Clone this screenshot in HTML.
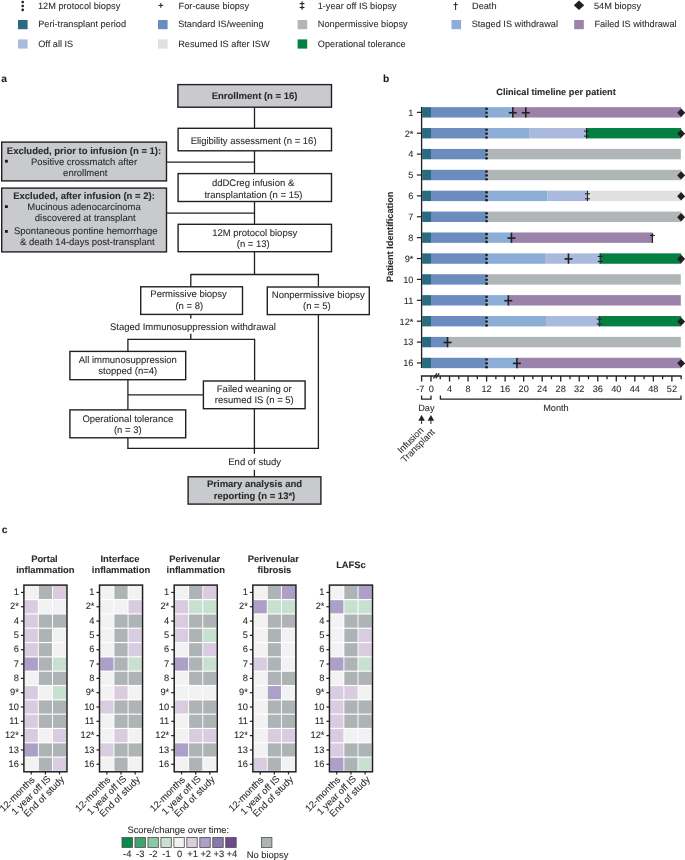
<!DOCTYPE html>
<html><head><meta charset="utf-8"><title>Figure</title>
<style>
html,body{margin:0;padding:0;background:#fff;}
body{width:685px;height:860px;overflow:hidden;}
svg{display:block;font-family:"Liberation Sans", Arial, Helvetica, sans-serif;text-rendering:geometricPrecision;}
text{stroke:#2b2b2b;stroke-width:0.08px;}
</style></head>
<body>
<svg width="685" height="860" viewBox="0 0 685 860">
<rect width="685" height="860" fill="#fff"/>
<circle cx="22.7" cy="2.1" r="1.35" fill="#231f20"/>
<circle cx="22.7" cy="6" r="1.35" fill="#231f20"/>
<circle cx="22.7" cy="9.9" r="1.35" fill="#231f20"/>
<text x="38" y="9.4" font-size="9.2" fill="#2b2b2b">12M protocol biopsy</text>
<line x1="158.4" y1="5.4" x2="163.2" y2="5.4" stroke="#231f20" stroke-width="1"/>
<line x1="160.8" y1="3" x2="160.8" y2="7.8" stroke="#231f20" stroke-width="1"/>
<text x="178.6" y="9.4" font-size="9.2" fill="#2b2b2b">For-cause biopsy</text>
<line x1="302.1" y1="1.2" x2="302.1" y2="9.9" stroke="#231f20" stroke-width="1"/>
<line x1="299.7" y1="3.6" x2="304.4" y2="3.6" stroke="#231f20" stroke-width="1.2"/>
<line x1="299.7" y1="7.5" x2="304.4" y2="7.5" stroke="#231f20" stroke-width="1.2"/>
<text x="317.7" y="9.4" font-size="9.2" fill="#2b2b2b">1-year off IS biopsy</text>
<line x1="455.6" y1="2.2" x2="455.6" y2="10" stroke="#231f20" stroke-width="1"/>
<line x1="453.3" y1="4.6" x2="457.9" y2="4.6" stroke="#231f20" stroke-width="0.9"/>
<text x="472" y="9.4" font-size="9.2" fill="#2b2b2b">Death</text>
<polygon points="579.0,0.5 584.2,5.2 579.0,9.9 573.8,5.2" fill="#231f20"/>
<text x="594" y="9.4" font-size="9.2" fill="#2b2b2b">54M biopsy</text>
<rect x="18" y="20" width="9.6" height="9.2" fill="#2b6b82"/>
<text x="38.2" y="27.4" font-size="9.2" fill="#2b2b2b">Peri-transplant period</text>
<rect x="158" y="20" width="9.6" height="9.2" fill="#6b8cbf"/>
<text x="178.2" y="27.4" font-size="9.2" fill="#2b2b2b">Standard IS/weening</text>
<rect x="297.6" y="20" width="9.6" height="9.2" fill="#b0b5b8"/>
<text x="317.8" y="27.4" font-size="9.2" fill="#2b2b2b">Nonpermissive biopsy</text>
<rect x="451.5" y="20" width="9.6" height="9.2" fill="#8aaed6"/>
<text x="471.7" y="27.4" font-size="9.2" fill="#2b2b2b">Staged IS withdrawal</text>
<rect x="574.2" y="20" width="9.6" height="9.2" fill="#9a82aa"/>
<text x="594.4" y="27.4" font-size="9.2" fill="#2b2b2b">Failed IS withdrawal</text>
<rect x="18" y="39.4" width="9.6" height="9.2" fill="#aab9de"/>
<text x="38.2" y="47.3" font-size="9.2" fill="#2b2b2b">Off all IS</text>
<rect x="158" y="39.4" width="9.6" height="9.2" fill="#e0e0e2"/>
<text x="178.2" y="47.3" font-size="9.2" fill="#2b2b2b">Resumed IS after ISW</text>
<rect x="297.6" y="39.4" width="9.6" height="9.2" fill="#037f42"/>
<text x="317.8" y="47.3" font-size="9.2" fill="#2b2b2b">Operational tolerance</text>
<text x="1.3" y="81.9" font-size="10.3" font-weight="bold" fill="#1a1a1a">a</text>
<line x1="254.5" y1="107.5" x2="254.5" y2="128" stroke="#231f20" stroke-width="1.3"/>
<line x1="254.5" y1="151" x2="254.5" y2="173.5" stroke="#231f20" stroke-width="1.3"/>
<line x1="166.5" y1="162.2" x2="254.5" y2="162.2" stroke="#231f20" stroke-width="1.3"/>
<line x1="254.5" y1="202" x2="254.5" y2="224" stroke="#231f20" stroke-width="1.3"/>
<line x1="166.5" y1="213.2" x2="254.5" y2="213.2" stroke="#231f20" stroke-width="1.3"/>
<line x1="254.5" y1="252" x2="254.5" y2="274.5" stroke="#231f20" stroke-width="1.3"/>
<line x1="190.8" y1="274.5" x2="318.4" y2="274.5" stroke="#231f20" stroke-width="1.3"/>
<line x1="190.8" y1="273.9" x2="190.8" y2="286.5" stroke="#231f20" stroke-width="1.3"/>
<line x1="318.4" y1="273.9" x2="318.4" y2="286.5" stroke="#231f20" stroke-width="1.3"/>
<line x1="190.8" y1="314.8" x2="190.8" y2="318.6" stroke="#231f20" stroke-width="1.3"/>
<line x1="190.8" y1="333.8" x2="190.8" y2="339.4" stroke="#231f20" stroke-width="1.3"/>
<line x1="127.9" y1="339.4" x2="254.6" y2="339.4" stroke="#231f20" stroke-width="1.3"/>
<line x1="127.9" y1="338.8" x2="127.9" y2="351" stroke="#231f20" stroke-width="1.3"/>
<line x1="254.6" y1="338.8" x2="254.6" y2="380.5" stroke="#231f20" stroke-width="1.3"/>
<line x1="127.9" y1="380" x2="127.9" y2="409.5" stroke="#231f20" stroke-width="1.3"/>
<line x1="127.9" y1="394.8" x2="202.9" y2="394.8" stroke="#231f20" stroke-width="1.3"/>
<line x1="127.9" y1="438" x2="127.9" y2="448.4" stroke="#231f20" stroke-width="1.3"/>
<line x1="127.3" y1="448.4" x2="319" y2="448.4" stroke="#231f20" stroke-width="1.3"/>
<line x1="318.4" y1="315" x2="318.4" y2="449" stroke="#231f20" stroke-width="1.3"/>
<line x1="254.4" y1="409" x2="254.4" y2="453.8" stroke="#231f20" stroke-width="1.3"/>
<line x1="254.4" y1="469.8" x2="254.4" y2="476.5" stroke="#231f20" stroke-width="1.3"/>
<rect x="177.9" y="84.6" width="153.6" height="22.6" fill="#c8cacd" stroke="#231f20" stroke-width="1.4"/>
<text x="254.6" y="99.3" font-size="9.5" font-weight="bold" text-anchor="middle" fill="#2b2b2b">Enrollment (n = 16)</text>
<rect x="178.1" y="128.3" width="153.4" height="22.5" fill="#fff" stroke="#231f20" stroke-width="1.4"/>
<text x="253.6" y="143.6" font-size="9.5" text-anchor="middle" fill="#2b2b2b">Eligibility assessment (n = 16)</text>
<rect x="178.1" y="173.6" width="153.4" height="27.9" fill="#fff" stroke="#231f20" stroke-width="1.4"/>
<text x="253.1" y="185.6" font-size="9.5" text-anchor="middle" fill="#2b2b2b">ddDCreg infusion &amp;</text>
<text x="253.4" y="197.5" font-size="9.5" text-anchor="middle" fill="#2b2b2b">transplantation (n = 15)</text>
<rect x="178.1" y="224.3" width="153.4" height="27.4" fill="#fff" stroke="#231f20" stroke-width="1.4"/>
<text x="254.7" y="235.9" font-size="9.5" text-anchor="middle" fill="#2b2b2b">12M protocol biopsy</text>
<text x="253.3" y="247" font-size="9.5" text-anchor="middle" fill="#2b2b2b">(n = 13)</text>
<rect x="1.7" y="142.1" width="164.8" height="38.8" fill="#c8cacd" stroke="#231f20" stroke-width="1.4"/>
<text x="84" y="154" font-size="9.5" font-weight="bold" text-anchor="middle" fill="#2b2b2b">Excluded, prior to infusion (n = 1):</text>
<rect x="5" y="159.8" width="2.8" height="2.8" fill="#1a1a1a"/>
<text x="84" y="165" font-size="9.5" text-anchor="middle" fill="#2b2b2b">Positive crossmatch after</text>
<text x="85.3" y="176.1" font-size="9.5" text-anchor="middle" fill="#2b2b2b">enrollment</text>
<rect x="1.7" y="188.1" width="164.8" height="63.8" fill="#c8cacd" stroke="#231f20" stroke-width="1.4"/>
<text x="84" y="199.1" font-size="9.5" font-weight="bold" text-anchor="middle" fill="#2b2b2b">Excluded, after infusion (n = 2):</text>
<rect x="5" y="205.2" width="2.8" height="2.8" fill="#1a1a1a"/>
<text x="84" y="210.3" font-size="9.5" text-anchor="middle" fill="#2b2b2b">Mucinous adenocarcinoma</text>
<text x="85.2" y="221.1" font-size="9.5" text-anchor="middle" fill="#2b2b2b">discovered at transplant</text>
<rect x="5" y="230" width="2.8" height="2.8" fill="#1a1a1a"/>
<text x="85.8" y="234.2" font-size="9.5" text-anchor="middle" fill="#2b2b2b">Spontaneous pontine hemorrhage</text>
<text x="87.3" y="245.1" font-size="9.5" text-anchor="middle" fill="#2b2b2b">&amp; death 14-days post-transplant</text>
<rect x="140.7" y="286.8" width="101.8" height="27.6" fill="#fff" stroke="#231f20" stroke-width="1.4"/>
<text x="188.6" y="297.3" font-size="9.5" text-anchor="middle" fill="#2b2b2b">Permissive biopsy</text>
<text x="189.3" y="309.2" font-size="9.5" text-anchor="middle" fill="#2b2b2b">(n = 8)</text>
<rect x="267.3" y="287" width="102" height="27.6" fill="#fff" stroke="#231f20" stroke-width="1.4"/>
<text x="318.3" y="297.5" font-size="9.5" text-anchor="middle" fill="#2b2b2b">Nonpermissive biopsy</text>
<text x="316.9" y="309.4" font-size="9.5" text-anchor="middle" fill="#2b2b2b">(n = 5)</text>
<text x="192.9" y="329.8" font-size="9.5" text-anchor="middle" fill="#2b2b2b">Staged Immunosuppression withdrawal</text>
<rect x="69.9" y="351.4" width="115.8" height="28.3" fill="#fff" stroke="#231f20" stroke-width="1.4"/>
<text x="127.8" y="362.9" font-size="9.5" text-anchor="middle" fill="#2b2b2b">All immunosuppression</text>
<text x="127.8" y="374.2" font-size="9.5" text-anchor="middle" fill="#2b2b2b">stopped (n=4)</text>
<rect x="203.4" y="381" width="101.7" height="27.7" fill="#fff" stroke="#231f20" stroke-width="1.4"/>
<text x="254.3" y="391.6" font-size="9.5" text-anchor="middle" fill="#2b2b2b">Failed weaning or</text>
<text x="254.3" y="402.9" font-size="9.5" text-anchor="middle" fill="#2b2b2b">resumed IS (n = 5)</text>
<rect x="69.9" y="409.9" width="115.8" height="27.9" fill="#fff" stroke="#231f20" stroke-width="1.4"/>
<text x="127.8" y="421.5" font-size="9.5" text-anchor="middle" fill="#2b2b2b">Operational tolerance</text>
<text x="127.8" y="432.7" font-size="9.5" text-anchor="middle" fill="#2b2b2b">(n = 3)</text>
<text x="254.7" y="465" font-size="9.5" text-anchor="middle" fill="#2b2b2b">End of study</text>
<rect x="188.1" y="476.8" width="132.8" height="27.3" fill="#c8cacd" stroke="#231f20" stroke-width="1.4"/>
<text x="254.5" y="487.4" font-size="9.5" font-weight="bold" text-anchor="middle" fill="#2b2b2b">Primary analysis and</text>
<text x="254.5" y="498.6" font-size="9.5" font-weight="bold" text-anchor="middle" fill="#2b2b2b">reporting (n = 13*)</text>
<text x="383" y="82.3" font-size="10.3" font-weight="bold" fill="#1a1a1a">b</text>
<text x="556" y="94.5" font-size="9.2" font-weight="bold" text-anchor="middle" fill="#2b2b2b">Clinical timeline per patient</text>
<text x="0" y="0" font-size="9.2" font-weight="bold" text-anchor="middle" fill="#2b2b2b" transform="translate(393.0,236.8) rotate(-90)">Patient Identification</text>
<rect x="422.2" y="107.15" width="8.8" height="10.4" fill="#2b6b82"/>
<rect x="431" y="107.15" width="55.59" height="10.4" fill="#6b8cbf"/>
<rect x="486.59" y="107.15" width="25.25" height="10.4" fill="#8aaed6"/>
<rect x="511.84" y="107.15" width="169.32" height="10.4" fill="#9a82aa"/>
<circle cx="486.59" cy="108.9" r="1.35" fill="#231f20"/>
<circle cx="486.59" cy="112.75" r="1.35" fill="#231f20"/>
<circle cx="486.59" cy="116.6" r="1.35" fill="#231f20"/>
<line x1="512.81" y1="107.35" x2="512.81" y2="117.55" stroke="#231f20" stroke-width="1.6"/>
<line x1="508.81" y1="112.75" x2="516.81" y2="112.75" stroke="#231f20" stroke-width="1.6"/>
<line x1="525.78" y1="107.35" x2="525.78" y2="117.55" stroke="#231f20" stroke-width="1.6"/>
<line x1="521.78" y1="112.75" x2="529.78" y2="112.75" stroke="#231f20" stroke-width="1.6"/>
<polygon points="681.15,108.55 685.15,112.75 681.15,116.95 677.15,112.75" fill="#231f20"/>
<line x1="416.9" y1="112.35" x2="421.6" y2="112.35" stroke="#231f20" stroke-width="1.2"/>
<text x="413.4" y="115.65" font-size="9.2" text-anchor="end" fill="#2b2b2b">1</text>
<rect x="422.2" y="128.03" width="8.8" height="10.4" fill="#2b6b82"/>
<rect x="431" y="128.03" width="55.59" height="10.4" fill="#6b8cbf"/>
<rect x="486.59" y="128.03" width="42.53" height="10.4" fill="#8aaed6"/>
<rect x="529.12" y="128.03" width="57.4" height="10.4" fill="#aab9de"/>
<rect x="586.51" y="128.03" width="94.64" height="10.4" fill="#037f42"/>
<circle cx="486.59" cy="129.78" r="1.35" fill="#231f20"/>
<circle cx="486.59" cy="133.63" r="1.35" fill="#231f20"/>
<circle cx="486.59" cy="137.48" r="1.35" fill="#231f20"/>
<line x1="586.51" y1="128.03" x2="586.51" y2="138.44" stroke="#231f20" stroke-width="1.1"/>
<line x1="584.01" y1="131.13" x2="589.01" y2="131.13" stroke="#231f20" stroke-width="1"/>
<line x1="584.01" y1="136.13" x2="589.01" y2="136.13" stroke="#231f20" stroke-width="1"/>
<polygon points="681.15,129.44 685.15,133.63 681.15,137.83 677.15,133.63" fill="#231f20"/>
<line x1="416.9" y1="133.23" x2="421.6" y2="133.23" stroke="#231f20" stroke-width="1.2"/>
<text x="413.4" y="136.53" font-size="9.2" text-anchor="end" fill="#2b2b2b">2*</text>
<rect x="422.2" y="148.92" width="8.8" height="10.4" fill="#2b6b82"/>
<rect x="431" y="148.92" width="55.59" height="10.4" fill="#6b8cbf"/>
<rect x="486.59" y="148.92" width="194.24" height="10.4" fill="#b0b5b8"/>
<circle cx="486.59" cy="150.67" r="1.35" fill="#231f20"/>
<circle cx="486.59" cy="154.52" r="1.35" fill="#231f20"/>
<circle cx="486.59" cy="158.37" r="1.35" fill="#231f20"/>
<line x1="416.9" y1="154.12" x2="421.6" y2="154.12" stroke="#231f20" stroke-width="1.2"/>
<text x="413.4" y="157.42" font-size="9.2" text-anchor="end" fill="#2b2b2b">4</text>
<rect x="422.2" y="169.81" width="8.8" height="10.4" fill="#2b6b82"/>
<rect x="431" y="169.81" width="55.59" height="10.4" fill="#6b8cbf"/>
<rect x="486.59" y="169.81" width="194.56" height="10.4" fill="#b0b5b8"/>
<circle cx="486.59" cy="171.56" r="1.35" fill="#231f20"/>
<circle cx="486.59" cy="175.41" r="1.35" fill="#231f20"/>
<circle cx="486.59" cy="179.25" r="1.35" fill="#231f20"/>
<polygon points="681.15,171.21 685.15,175.41 681.15,179.6 677.15,175.41" fill="#231f20"/>
<line x1="416.9" y1="175" x2="421.6" y2="175" stroke="#231f20" stroke-width="1.2"/>
<text x="413.4" y="178.31" font-size="9.2" text-anchor="end" fill="#2b2b2b">5</text>
<rect x="422.2" y="190.69" width="8.8" height="10.4" fill="#2b6b82"/>
<rect x="431" y="190.69" width="55.59" height="10.4" fill="#6b8cbf"/>
<rect x="486.59" y="190.69" width="61.01" height="10.4" fill="#8aaed6"/>
<rect x="547.6" y="190.69" width="39.89" height="10.4" fill="#aab9de"/>
<rect x="587.49" y="190.69" width="93.67" height="10.4" fill="#e0e0e2"/>
<circle cx="486.59" cy="192.44" r="1.35" fill="#231f20"/>
<circle cx="486.59" cy="196.29" r="1.35" fill="#231f20"/>
<circle cx="486.59" cy="200.14" r="1.35" fill="#231f20"/>
<line x1="587.49" y1="190.69" x2="587.49" y2="201.09" stroke="#231f20" stroke-width="1.1"/>
<line x1="584.99" y1="193.79" x2="589.99" y2="193.79" stroke="#231f20" stroke-width="1"/>
<line x1="584.99" y1="198.79" x2="589.99" y2="198.79" stroke="#231f20" stroke-width="1"/>
<polygon points="681.15,192.09 685.15,196.29 681.15,200.49 677.15,196.29" fill="#231f20"/>
<line x1="416.9" y1="195.89" x2="421.6" y2="195.89" stroke="#231f20" stroke-width="1.2"/>
<text x="413.4" y="199.19" font-size="9.2" text-anchor="end" fill="#2b2b2b">6</text>
<rect x="422.2" y="211.58" width="8.8" height="10.4" fill="#2b6b82"/>
<rect x="431" y="211.58" width="55.59" height="10.4" fill="#6b8cbf"/>
<rect x="486.59" y="211.58" width="194.56" height="10.4" fill="#b0b5b8"/>
<circle cx="486.59" cy="213.33" r="1.35" fill="#231f20"/>
<circle cx="486.59" cy="217.18" r="1.35" fill="#231f20"/>
<circle cx="486.59" cy="221.03" r="1.35" fill="#231f20"/>
<polygon points="681.15,212.98 685.15,217.18 681.15,221.38 677.15,217.18" fill="#231f20"/>
<line x1="416.9" y1="216.78" x2="421.6" y2="216.78" stroke="#231f20" stroke-width="1.2"/>
<text x="413.4" y="220.08" font-size="9.2" text-anchor="end" fill="#2b2b2b">7</text>
<rect x="422.2" y="232.46" width="8.8" height="10.4" fill="#2b6b82"/>
<rect x="431" y="232.46" width="55.59" height="10.4" fill="#6b8cbf"/>
<rect x="486.59" y="232.46" width="24.83" height="10.4" fill="#8aaed6"/>
<rect x="511.42" y="232.46" width="140.97" height="10.4" fill="#9a82aa"/>
<circle cx="486.59" cy="234.21" r="1.35" fill="#231f20"/>
<circle cx="486.59" cy="238.06" r="1.35" fill="#231f20"/>
<circle cx="486.59" cy="241.91" r="1.35" fill="#231f20"/>
<line x1="511.42" y1="232.66" x2="511.42" y2="242.86" stroke="#231f20" stroke-width="1.6"/>
<line x1="507.42" y1="238.06" x2="515.42" y2="238.06" stroke="#231f20" stroke-width="1.6"/>
<line x1="652.39" y1="233.26" x2="652.39" y2="242.86" stroke="#231f20" stroke-width="1.3"/>
<line x1="649.99" y1="235.46" x2="654.79" y2="235.46" stroke="#231f20" stroke-width="1.2"/>
<line x1="416.9" y1="237.66" x2="421.6" y2="237.66" stroke="#231f20" stroke-width="1.2"/>
<text x="413.4" y="240.96" font-size="9.2" text-anchor="end" fill="#2b2b2b">8</text>
<rect x="422.2" y="253.35" width="8.8" height="10.4" fill="#2b6b82"/>
<rect x="431" y="253.35" width="55.59" height="10.4" fill="#6b8cbf"/>
<rect x="486.59" y="253.35" width="58.42" height="10.4" fill="#8aaed6"/>
<rect x="545.01" y="253.35" width="55.17" height="10.4" fill="#aab9de"/>
<rect x="600.18" y="253.35" width="80.98" height="10.4" fill="#037f42"/>
<circle cx="486.59" cy="255.09" r="1.35" fill="#231f20"/>
<circle cx="486.59" cy="258.94" r="1.35" fill="#231f20"/>
<circle cx="486.59" cy="262.8" r="1.35" fill="#231f20"/>
<line x1="568.49" y1="253.55" x2="568.49" y2="263.75" stroke="#231f20" stroke-width="1.6"/>
<line x1="564.49" y1="258.94" x2="572.49" y2="258.94" stroke="#231f20" stroke-width="1.6"/>
<line x1="600.18" y1="253.35" x2="600.18" y2="263.75" stroke="#231f20" stroke-width="1.1"/>
<line x1="597.68" y1="256.44" x2="602.68" y2="256.44" stroke="#231f20" stroke-width="1"/>
<line x1="597.68" y1="261.44" x2="602.68" y2="261.44" stroke="#231f20" stroke-width="1"/>
<polygon points="681.15,254.75 685.15,258.94 681.15,263.14 677.15,258.94" fill="#231f20"/>
<line x1="416.9" y1="258.55" x2="421.6" y2="258.55" stroke="#231f20" stroke-width="1.2"/>
<text x="413.4" y="261.85" font-size="9.2" text-anchor="end" fill="#2b2b2b">9*</text>
<rect x="422.2" y="274.23" width="8.8" height="10.4" fill="#2b6b82"/>
<rect x="431" y="274.23" width="55.59" height="10.4" fill="#6b8cbf"/>
<rect x="486.59" y="274.23" width="194.24" height="10.4" fill="#b0b5b8"/>
<circle cx="486.59" cy="275.98" r="1.35" fill="#231f20"/>
<circle cx="486.59" cy="279.83" r="1.35" fill="#231f20"/>
<circle cx="486.59" cy="283.68" r="1.35" fill="#231f20"/>
<line x1="416.9" y1="279.43" x2="421.6" y2="279.43" stroke="#231f20" stroke-width="1.2"/>
<text x="413.4" y="282.73" font-size="9.2" text-anchor="end" fill="#2b2b2b">10</text>
<rect x="422.2" y="295.12" width="8.8" height="10.4" fill="#2b6b82"/>
<rect x="431" y="295.12" width="55.59" height="10.4" fill="#6b8cbf"/>
<rect x="486.59" y="295.12" width="21.73" height="10.4" fill="#8aaed6"/>
<rect x="508.32" y="295.12" width="172.51" height="10.4" fill="#9a82aa"/>
<circle cx="486.59" cy="296.86" r="1.35" fill="#231f20"/>
<circle cx="486.59" cy="300.71" r="1.35" fill="#231f20"/>
<circle cx="486.59" cy="304.56" r="1.35" fill="#231f20"/>
<line x1="508.32" y1="295.31" x2="508.32" y2="305.51" stroke="#231f20" stroke-width="1.6"/>
<line x1="504.32" y1="300.71" x2="512.32" y2="300.71" stroke="#231f20" stroke-width="1.6"/>
<line x1="416.9" y1="300.31" x2="421.6" y2="300.31" stroke="#231f20" stroke-width="1.2"/>
<text x="413.4" y="303.62" font-size="9.2" text-anchor="end" fill="#2b2b2b">11</text>
<rect x="422.2" y="316" width="8.8" height="10.4" fill="#2b6b82"/>
<rect x="431" y="316" width="55.59" height="10.4" fill="#6b8cbf"/>
<rect x="486.59" y="316" width="60.13" height="10.4" fill="#8aaed6"/>
<rect x="546.72" y="316" width="52.49" height="10.4" fill="#aab9de"/>
<rect x="599.21" y="316" width="81.95" height="10.4" fill="#037f42"/>
<circle cx="486.59" cy="317.75" r="1.35" fill="#231f20"/>
<circle cx="486.59" cy="321.6" r="1.35" fill="#231f20"/>
<circle cx="486.59" cy="325.45" r="1.35" fill="#231f20"/>
<line x1="599.21" y1="316" x2="599.21" y2="326.4" stroke="#231f20" stroke-width="1.1"/>
<line x1="596.71" y1="319.1" x2="601.71" y2="319.1" stroke="#231f20" stroke-width="1"/>
<line x1="596.71" y1="324.1" x2="601.71" y2="324.1" stroke="#231f20" stroke-width="1"/>
<polygon points="681.15,317.4 685.15,321.6 681.15,325.8 677.15,321.6" fill="#231f20"/>
<line x1="416.9" y1="321.2" x2="421.6" y2="321.2" stroke="#231f20" stroke-width="1.2"/>
<text x="413.4" y="324.5" font-size="9.2" text-anchor="end" fill="#2b2b2b">12*</text>
<rect x="422.2" y="336.89" width="8.8" height="10.4" fill="#2b6b82"/>
<rect x="431" y="336.89" width="16.58" height="10.4" fill="#6b8cbf"/>
<rect x="447.58" y="336.89" width="233.25" height="10.4" fill="#b0b5b8"/>
<line x1="447.58" y1="337.09" x2="447.58" y2="347.29" stroke="#231f20" stroke-width="1.6"/>
<line x1="443.58" y1="342.49" x2="451.58" y2="342.49" stroke="#231f20" stroke-width="1.6"/>
<line x1="416.9" y1="342.09" x2="421.6" y2="342.09" stroke="#231f20" stroke-width="1.2"/>
<text x="413.4" y="345.39" font-size="9.2" text-anchor="end" fill="#2b2b2b">13</text>
<rect x="422.2" y="357.77" width="8.8" height="10.4" fill="#2b6b82"/>
<rect x="431" y="357.77" width="55.59" height="10.4" fill="#6b8cbf"/>
<rect x="486.59" y="357.77" width="30.3" height="10.4" fill="#8aaed6"/>
<rect x="516.89" y="357.77" width="164.27" height="10.4" fill="#9a82aa"/>
<circle cx="486.59" cy="359.52" r="1.35" fill="#231f20"/>
<circle cx="486.59" cy="363.37" r="1.35" fill="#231f20"/>
<circle cx="486.59" cy="367.22" r="1.35" fill="#231f20"/>
<line x1="516.89" y1="357.97" x2="516.89" y2="368.17" stroke="#231f20" stroke-width="1.6"/>
<line x1="512.89" y1="363.37" x2="520.89" y2="363.37" stroke="#231f20" stroke-width="1.6"/>
<polygon points="681.15,359.17 685.15,363.37 681.15,367.57 677.15,363.37" fill="#231f20"/>
<line x1="416.9" y1="362.97" x2="421.6" y2="362.97" stroke="#231f20" stroke-width="1.2"/>
<text x="413.4" y="366.27" font-size="9.2" text-anchor="end" fill="#2b2b2b">16</text>
<line x1="421.6" y1="106.9" x2="421.6" y2="368" stroke="#231f20" stroke-width="1.3"/>
<line x1="420.95" y1="376" x2="681.6" y2="376" stroke="#231f20" stroke-width="1.3"/>
<line x1="421.6" y1="376" x2="421.6" y2="381.5" stroke="#231f20" stroke-width="1.3"/>
<line x1="431" y1="376" x2="431" y2="381.5" stroke="#231f20" stroke-width="1.3"/>
<line x1="440.26" y1="376" x2="440.26" y2="379.3" stroke="#231f20" stroke-width="1.3"/>
<line x1="449.53" y1="376" x2="449.53" y2="381.5" stroke="#231f20" stroke-width="1.3"/>
<line x1="458.8" y1="376" x2="458.8" y2="379.3" stroke="#231f20" stroke-width="1.3"/>
<line x1="468.06" y1="376" x2="468.06" y2="381.5" stroke="#231f20" stroke-width="1.3"/>
<line x1="477.32" y1="376" x2="477.32" y2="379.3" stroke="#231f20" stroke-width="1.3"/>
<line x1="486.59" y1="376" x2="486.59" y2="381.5" stroke="#231f20" stroke-width="1.3"/>
<line x1="495.86" y1="376" x2="495.86" y2="379.3" stroke="#231f20" stroke-width="1.3"/>
<line x1="505.12" y1="376" x2="505.12" y2="381.5" stroke="#231f20" stroke-width="1.3"/>
<line x1="514.38" y1="376" x2="514.38" y2="379.3" stroke="#231f20" stroke-width="1.3"/>
<line x1="523.65" y1="376" x2="523.65" y2="381.5" stroke="#231f20" stroke-width="1.3"/>
<line x1="532.91" y1="376" x2="532.91" y2="379.3" stroke="#231f20" stroke-width="1.3"/>
<line x1="542.18" y1="376" x2="542.18" y2="381.5" stroke="#231f20" stroke-width="1.3"/>
<line x1="551.45" y1="376" x2="551.45" y2="379.3" stroke="#231f20" stroke-width="1.3"/>
<line x1="560.71" y1="376" x2="560.71" y2="381.5" stroke="#231f20" stroke-width="1.3"/>
<line x1="569.98" y1="376" x2="569.98" y2="379.3" stroke="#231f20" stroke-width="1.3"/>
<line x1="579.24" y1="376" x2="579.24" y2="381.5" stroke="#231f20" stroke-width="1.3"/>
<line x1="588.5" y1="376" x2="588.5" y2="379.3" stroke="#231f20" stroke-width="1.3"/>
<line x1="597.77" y1="376" x2="597.77" y2="381.5" stroke="#231f20" stroke-width="1.3"/>
<line x1="607.04" y1="376" x2="607.04" y2="379.3" stroke="#231f20" stroke-width="1.3"/>
<line x1="616.3" y1="376" x2="616.3" y2="381.5" stroke="#231f20" stroke-width="1.3"/>
<line x1="625.57" y1="376" x2="625.57" y2="379.3" stroke="#231f20" stroke-width="1.3"/>
<line x1="634.83" y1="376" x2="634.83" y2="381.5" stroke="#231f20" stroke-width="1.3"/>
<line x1="644.1" y1="376" x2="644.1" y2="379.3" stroke="#231f20" stroke-width="1.3"/>
<line x1="653.36" y1="376" x2="653.36" y2="381.5" stroke="#231f20" stroke-width="1.3"/>
<line x1="662.62" y1="376" x2="662.62" y2="379.3" stroke="#231f20" stroke-width="1.3"/>
<line x1="671.89" y1="376" x2="671.89" y2="381.5" stroke="#231f20" stroke-width="1.3"/>
<line x1="681.15" y1="376" x2="681.15" y2="379.3" stroke="#231f20" stroke-width="1.3"/>
<line x1="433.4" y1="378.3" x2="436.9" y2="373.4" stroke="#231f20" stroke-width="1.2"/>
<line x1="435.7" y1="378.3" x2="439.2" y2="373.4" stroke="#231f20" stroke-width="1.2"/>
<text x="420.4" y="391.8" font-size="9.2" text-anchor="middle" fill="#2b2b2b">-7</text>
<text x="431.2" y="391.8" font-size="9.2" text-anchor="middle" fill="#2b2b2b">0</text>
<text x="449.53" y="391.8" font-size="9.2" text-anchor="middle" fill="#2b2b2b">4</text>
<text x="468.06" y="391.8" font-size="9.2" text-anchor="middle" fill="#2b2b2b">8</text>
<text x="486.59" y="391.8" font-size="9.2" text-anchor="middle" fill="#2b2b2b">12</text>
<text x="505.12" y="391.8" font-size="9.2" text-anchor="middle" fill="#2b2b2b">16</text>
<text x="523.65" y="391.8" font-size="9.2" text-anchor="middle" fill="#2b2b2b">20</text>
<text x="542.18" y="391.8" font-size="9.2" text-anchor="middle" fill="#2b2b2b">24</text>
<text x="560.71" y="391.8" font-size="9.2" text-anchor="middle" fill="#2b2b2b">28</text>
<text x="579.24" y="391.8" font-size="9.2" text-anchor="middle" fill="#2b2b2b">32</text>
<text x="597.77" y="391.8" font-size="9.2" text-anchor="middle" fill="#2b2b2b">36</text>
<text x="616.3" y="391.8" font-size="9.2" text-anchor="middle" fill="#2b2b2b">40</text>
<text x="634.83" y="391.8" font-size="9.2" text-anchor="middle" fill="#2b2b2b">44</text>
<text x="653.36" y="391.8" font-size="9.2" text-anchor="middle" fill="#2b2b2b">48</text>
<text x="671.89" y="391.8" font-size="9.2" text-anchor="middle" fill="#2b2b2b">52</text>
<path d="M421.6,395.6 V399.2 H431.0 V395.6" fill="none" stroke="#231f20" stroke-width="1.3"/>
<path d="M440.4,395.6 V399.2 H681.0 V395.6" fill="none" stroke="#231f20" stroke-width="1.3"/>
<text x="426.4" y="410.9" font-size="9.2" text-anchor="middle" fill="#2b2b2b">Day</text>
<text x="555.9" y="411" font-size="9.2" text-anchor="middle" fill="#2b2b2b">Month</text>
<polygon points="421.6,414.9 424.9,420.8 418.3,420.8" fill="#231f20"/>
<line x1="421.6" y1="420.5" x2="421.6" y2="424" stroke="#231f20" stroke-width="1"/>
<polygon points="430.9,414.9 434.2,420.8 427.6,420.8" fill="#231f20"/>
<line x1="430.9" y1="420.5" x2="430.9" y2="424" stroke="#231f20" stroke-width="1"/>
<text x="0" y="0" font-size="9.2" text-anchor="end" fill="#2b2b2b" transform="translate(424.0,431.0) rotate(-45)">Infusion</text>
<text x="0" y="0" font-size="9.2" text-anchor="end" fill="#2b2b2b" transform="translate(435.3,432.6) rotate(-45)">Transplant</text>
<text x="1.8" y="532.8" font-size="10.3" font-weight="bold" fill="#1a1a1a">c</text>
<text x="44.42" y="562.1" font-size="9.4" font-weight="bold" text-anchor="middle" fill="#2b2b2b">Portal</text>
<text x="45.42" y="573.1" font-size="9.4" font-weight="bold" text-anchor="middle" fill="#2b2b2b">inflammation</text>
<rect x="24.65" y="585.85" width="41.55" height="185.2" fill="#ffffff"/>
<rect x="24.65" y="585.85" width="13.2" height="13.15" fill="#f2f2f2"/>
<rect x="38.8" y="585.85" width="13.2" height="13.15" fill="#aeb3b5"/>
<rect x="52.95" y="585.85" width="13.2" height="13.15" fill="#dacce0"/>
<rect x="24.65" y="600.17" width="13.2" height="13.15" fill="#dacce0"/>
<rect x="38.8" y="600.17" width="13.2" height="13.15" fill="#f2f2f2"/>
<rect x="52.95" y="600.17" width="13.2" height="13.15" fill="#f2f2f2"/>
<rect x="24.65" y="614.49" width="13.2" height="13.15" fill="#dacce0"/>
<rect x="38.8" y="614.49" width="13.2" height="13.15" fill="#aeb3b5"/>
<rect x="52.95" y="614.49" width="13.2" height="13.15" fill="#aeb3b5"/>
<rect x="24.65" y="628.81" width="13.2" height="13.15" fill="#dacce0"/>
<rect x="38.8" y="628.81" width="13.2" height="13.15" fill="#aeb3b5"/>
<rect x="52.95" y="628.81" width="13.2" height="13.15" fill="#f2f2f2"/>
<rect x="24.65" y="643.13" width="13.2" height="13.15" fill="#dacce0"/>
<rect x="38.8" y="643.13" width="13.2" height="13.15" fill="#aeb3b5"/>
<rect x="52.95" y="643.13" width="13.2" height="13.15" fill="#f2f2f2"/>
<rect x="24.65" y="657.45" width="13.2" height="13.15" fill="#ac9fc8"/>
<rect x="38.8" y="657.45" width="13.2" height="13.15" fill="#aeb3b5"/>
<rect x="52.95" y="657.45" width="13.2" height="13.15" fill="#c8e0d0"/>
<rect x="24.65" y="671.77" width="13.2" height="13.15" fill="#f2f2f2"/>
<rect x="38.8" y="671.77" width="13.2" height="13.15" fill="#aeb3b5"/>
<rect x="52.95" y="671.77" width="13.2" height="13.15" fill="#aeb3b5"/>
<rect x="24.65" y="686.09" width="13.2" height="13.15" fill="#dacce0"/>
<rect x="38.8" y="686.09" width="13.2" height="13.15" fill="#f2f2f2"/>
<rect x="52.95" y="686.09" width="13.2" height="13.15" fill="#c8e0d0"/>
<rect x="24.65" y="700.41" width="13.2" height="13.15" fill="#dacce0"/>
<rect x="38.8" y="700.41" width="13.2" height="13.15" fill="#aeb3b5"/>
<rect x="52.95" y="700.41" width="13.2" height="13.15" fill="#aeb3b5"/>
<rect x="24.65" y="714.73" width="13.2" height="13.15" fill="#dacce0"/>
<rect x="38.8" y="714.73" width="13.2" height="13.15" fill="#aeb3b5"/>
<rect x="52.95" y="714.73" width="13.2" height="13.15" fill="#aeb3b5"/>
<rect x="24.65" y="729.05" width="13.2" height="13.15" fill="#dacce0"/>
<rect x="38.8" y="729.05" width="13.2" height="13.15" fill="#f2f2f2"/>
<rect x="52.95" y="729.05" width="13.2" height="13.15" fill="#dacce0"/>
<rect x="24.65" y="743.37" width="13.2" height="13.15" fill="#ac9fc8"/>
<rect x="38.8" y="743.37" width="13.2" height="13.15" fill="#aeb3b5"/>
<rect x="52.95" y="743.37" width="13.2" height="13.15" fill="#aeb3b5"/>
<rect x="24.65" y="757.69" width="13.2" height="13.15" fill="#f2f2f2"/>
<rect x="38.8" y="757.69" width="13.2" height="13.15" fill="#aeb3b5"/>
<rect x="52.95" y="757.69" width="13.2" height="13.15" fill="#dacce0"/>
<rect x="23.9" y="585.1" width="43.05" height="186.7" fill="none" stroke="#231f20" stroke-width="1.5"/>
<line x1="20.9" y1="592.43" x2="23.9" y2="592.43" stroke="#231f20" stroke-width="1.2"/>
<text x="18.9" y="595.03" font-size="9.3" text-anchor="end" fill="#2b2b2b">1</text>
<line x1="20.9" y1="606.75" x2="23.9" y2="606.75" stroke="#231f20" stroke-width="1.2"/>
<text x="18.9" y="609.35" font-size="9.3" text-anchor="end" fill="#2b2b2b">2*</text>
<line x1="20.9" y1="621.07" x2="23.9" y2="621.07" stroke="#231f20" stroke-width="1.2"/>
<text x="18.9" y="623.67" font-size="9.3" text-anchor="end" fill="#2b2b2b">4</text>
<line x1="20.9" y1="635.39" x2="23.9" y2="635.39" stroke="#231f20" stroke-width="1.2"/>
<text x="18.9" y="637.99" font-size="9.3" text-anchor="end" fill="#2b2b2b">5</text>
<line x1="20.9" y1="649.71" x2="23.9" y2="649.71" stroke="#231f20" stroke-width="1.2"/>
<text x="18.9" y="652.31" font-size="9.3" text-anchor="end" fill="#2b2b2b">6</text>
<line x1="20.9" y1="664.03" x2="23.9" y2="664.03" stroke="#231f20" stroke-width="1.2"/>
<text x="18.9" y="666.63" font-size="9.3" text-anchor="end" fill="#2b2b2b">7</text>
<line x1="20.9" y1="678.35" x2="23.9" y2="678.35" stroke="#231f20" stroke-width="1.2"/>
<text x="18.9" y="680.95" font-size="9.3" text-anchor="end" fill="#2b2b2b">8</text>
<line x1="20.9" y1="692.67" x2="23.9" y2="692.67" stroke="#231f20" stroke-width="1.2"/>
<text x="18.9" y="695.27" font-size="9.3" text-anchor="end" fill="#2b2b2b">9*</text>
<line x1="20.9" y1="706.99" x2="23.9" y2="706.99" stroke="#231f20" stroke-width="1.2"/>
<text x="18.9" y="709.59" font-size="9.3" text-anchor="end" fill="#2b2b2b">10</text>
<line x1="20.9" y1="721.31" x2="23.9" y2="721.31" stroke="#231f20" stroke-width="1.2"/>
<text x="18.9" y="723.91" font-size="9.3" text-anchor="end" fill="#2b2b2b">11</text>
<line x1="20.9" y1="735.62" x2="23.9" y2="735.62" stroke="#231f20" stroke-width="1.2"/>
<text x="18.9" y="738.23" font-size="9.3" text-anchor="end" fill="#2b2b2b">12*</text>
<line x1="20.9" y1="749.95" x2="23.9" y2="749.95" stroke="#231f20" stroke-width="1.2"/>
<text x="18.9" y="752.55" font-size="9.3" text-anchor="end" fill="#2b2b2b">13</text>
<line x1="20.9" y1="764.27" x2="23.9" y2="764.27" stroke="#231f20" stroke-width="1.2"/>
<text x="18.9" y="766.87" font-size="9.3" text-anchor="end" fill="#2b2b2b">16</text>
<line x1="31.25" y1="771.8" x2="31.25" y2="774.4" stroke="#231f20" stroke-width="1.2"/>
<text x="0" y="0" font-size="9.5" text-anchor="end" fill="#2b2b2b" transform="translate(35.25,780.4) rotate(-45)">12-months</text>
<line x1="45.4" y1="771.8" x2="45.4" y2="774.4" stroke="#231f20" stroke-width="1.2"/>
<text x="0" y="0" font-size="9.5" text-anchor="end" fill="#2b2b2b" transform="translate(51.3,779.4) rotate(-45)">1 year off IS</text>
<line x1="59.55" y1="771.8" x2="59.55" y2="774.4" stroke="#231f20" stroke-width="1.2"/>
<text x="0" y="0" font-size="9.5" text-anchor="end" fill="#2b2b2b" transform="translate(64.95,780.1) rotate(-45)">End of study</text>
<text x="120.03" y="562.1" font-size="9.4" font-weight="bold" text-anchor="middle" fill="#2b2b2b">Interface</text>
<text x="121.03" y="573.1" font-size="9.4" font-weight="bold" text-anchor="middle" fill="#2b2b2b">inflammation</text>
<rect x="100.25" y="585.85" width="41.55" height="185.2" fill="#ffffff"/>
<rect x="100.25" y="585.85" width="13.2" height="13.15" fill="#f2f2f2"/>
<rect x="114.4" y="585.85" width="13.2" height="13.15" fill="#aeb3b5"/>
<rect x="128.55" y="585.85" width="13.2" height="13.15" fill="#f2f2f2"/>
<rect x="100.25" y="600.17" width="13.2" height="13.15" fill="#f2f2f2"/>
<rect x="114.4" y="600.17" width="13.2" height="13.15" fill="#f2f2f2"/>
<rect x="128.55" y="600.17" width="13.2" height="13.15" fill="#dacce0"/>
<rect x="100.25" y="614.49" width="13.2" height="13.15" fill="#f2f2f2"/>
<rect x="114.4" y="614.49" width="13.2" height="13.15" fill="#aeb3b5"/>
<rect x="128.55" y="614.49" width="13.2" height="13.15" fill="#aeb3b5"/>
<rect x="100.25" y="628.81" width="13.2" height="13.15" fill="#f2f2f2"/>
<rect x="114.4" y="628.81" width="13.2" height="13.15" fill="#aeb3b5"/>
<rect x="128.55" y="628.81" width="13.2" height="13.15" fill="#dacce0"/>
<rect x="100.25" y="643.13" width="13.2" height="13.15" fill="#f2f2f2"/>
<rect x="114.4" y="643.13" width="13.2" height="13.15" fill="#aeb3b5"/>
<rect x="128.55" y="643.13" width="13.2" height="13.15" fill="#dacce0"/>
<rect x="100.25" y="657.45" width="13.2" height="13.15" fill="#ac9fc8"/>
<rect x="114.4" y="657.45" width="13.2" height="13.15" fill="#aeb3b5"/>
<rect x="128.55" y="657.45" width="13.2" height="13.15" fill="#c8e0d0"/>
<rect x="100.25" y="671.77" width="13.2" height="13.15" fill="#f2f2f2"/>
<rect x="114.4" y="671.77" width="13.2" height="13.15" fill="#aeb3b5"/>
<rect x="128.55" y="671.77" width="13.2" height="13.15" fill="#aeb3b5"/>
<rect x="100.25" y="686.09" width="13.2" height="13.15" fill="#f2f2f2"/>
<rect x="114.4" y="686.09" width="13.2" height="13.15" fill="#dacce0"/>
<rect x="128.55" y="686.09" width="13.2" height="13.15" fill="#f2f2f2"/>
<rect x="100.25" y="700.41" width="13.2" height="13.15" fill="#dacce0"/>
<rect x="114.4" y="700.41" width="13.2" height="13.15" fill="#aeb3b5"/>
<rect x="128.55" y="700.41" width="13.2" height="13.15" fill="#aeb3b5"/>
<rect x="100.25" y="714.73" width="13.2" height="13.15" fill="#f2f2f2"/>
<rect x="114.4" y="714.73" width="13.2" height="13.15" fill="#aeb3b5"/>
<rect x="128.55" y="714.73" width="13.2" height="13.15" fill="#aeb3b5"/>
<rect x="100.25" y="729.05" width="13.2" height="13.15" fill="#f2f2f2"/>
<rect x="114.4" y="729.05" width="13.2" height="13.15" fill="#dacce0"/>
<rect x="128.55" y="729.05" width="13.2" height="13.15" fill="#f2f2f2"/>
<rect x="100.25" y="743.37" width="13.2" height="13.15" fill="#dacce0"/>
<rect x="114.4" y="743.37" width="13.2" height="13.15" fill="#aeb3b5"/>
<rect x="128.55" y="743.37" width="13.2" height="13.15" fill="#aeb3b5"/>
<rect x="100.25" y="757.69" width="13.2" height="13.15" fill="#f2f2f2"/>
<rect x="114.4" y="757.69" width="13.2" height="13.15" fill="#aeb3b5"/>
<rect x="128.55" y="757.69" width="13.2" height="13.15" fill="#f2f2f2"/>
<rect x="99.5" y="585.1" width="43.05" height="186.7" fill="none" stroke="#231f20" stroke-width="1.5"/>
<line x1="96.5" y1="592.43" x2="99.5" y2="592.43" stroke="#231f20" stroke-width="1.2"/>
<text x="94.5" y="595.03" font-size="9.3" text-anchor="end" fill="#2b2b2b">1</text>
<line x1="96.5" y1="606.75" x2="99.5" y2="606.75" stroke="#231f20" stroke-width="1.2"/>
<text x="94.5" y="609.35" font-size="9.3" text-anchor="end" fill="#2b2b2b">2*</text>
<line x1="96.5" y1="621.07" x2="99.5" y2="621.07" stroke="#231f20" stroke-width="1.2"/>
<text x="94.5" y="623.67" font-size="9.3" text-anchor="end" fill="#2b2b2b">4</text>
<line x1="96.5" y1="635.39" x2="99.5" y2="635.39" stroke="#231f20" stroke-width="1.2"/>
<text x="94.5" y="637.99" font-size="9.3" text-anchor="end" fill="#2b2b2b">5</text>
<line x1="96.5" y1="649.71" x2="99.5" y2="649.71" stroke="#231f20" stroke-width="1.2"/>
<text x="94.5" y="652.31" font-size="9.3" text-anchor="end" fill="#2b2b2b">6</text>
<line x1="96.5" y1="664.03" x2="99.5" y2="664.03" stroke="#231f20" stroke-width="1.2"/>
<text x="94.5" y="666.63" font-size="9.3" text-anchor="end" fill="#2b2b2b">7</text>
<line x1="96.5" y1="678.35" x2="99.5" y2="678.35" stroke="#231f20" stroke-width="1.2"/>
<text x="94.5" y="680.95" font-size="9.3" text-anchor="end" fill="#2b2b2b">8</text>
<line x1="96.5" y1="692.67" x2="99.5" y2="692.67" stroke="#231f20" stroke-width="1.2"/>
<text x="94.5" y="695.27" font-size="9.3" text-anchor="end" fill="#2b2b2b">9*</text>
<line x1="96.5" y1="706.99" x2="99.5" y2="706.99" stroke="#231f20" stroke-width="1.2"/>
<text x="94.5" y="709.59" font-size="9.3" text-anchor="end" fill="#2b2b2b">10</text>
<line x1="96.5" y1="721.31" x2="99.5" y2="721.31" stroke="#231f20" stroke-width="1.2"/>
<text x="94.5" y="723.91" font-size="9.3" text-anchor="end" fill="#2b2b2b">11</text>
<line x1="96.5" y1="735.62" x2="99.5" y2="735.62" stroke="#231f20" stroke-width="1.2"/>
<text x="94.5" y="738.23" font-size="9.3" text-anchor="end" fill="#2b2b2b">12*</text>
<line x1="96.5" y1="749.95" x2="99.5" y2="749.95" stroke="#231f20" stroke-width="1.2"/>
<text x="94.5" y="752.55" font-size="9.3" text-anchor="end" fill="#2b2b2b">13</text>
<line x1="96.5" y1="764.27" x2="99.5" y2="764.27" stroke="#231f20" stroke-width="1.2"/>
<text x="94.5" y="766.87" font-size="9.3" text-anchor="end" fill="#2b2b2b">16</text>
<line x1="106.85" y1="771.8" x2="106.85" y2="774.4" stroke="#231f20" stroke-width="1.2"/>
<text x="0" y="0" font-size="9.5" text-anchor="end" fill="#2b2b2b" transform="translate(110.85,780.4) rotate(-45)">12-months</text>
<line x1="121" y1="771.8" x2="121" y2="774.4" stroke="#231f20" stroke-width="1.2"/>
<text x="0" y="0" font-size="9.5" text-anchor="end" fill="#2b2b2b" transform="translate(126.9,779.4) rotate(-45)">1 year off IS</text>
<line x1="135.15" y1="771.8" x2="135.15" y2="774.4" stroke="#231f20" stroke-width="1.2"/>
<text x="0" y="0" font-size="9.5" text-anchor="end" fill="#2b2b2b" transform="translate(140.55,780.1) rotate(-45)">End of study</text>
<text x="194.72" y="562.1" font-size="9.4" font-weight="bold" text-anchor="middle" fill="#2b2b2b">Perivenular</text>
<text x="195.72" y="573.1" font-size="9.4" font-weight="bold" text-anchor="middle" fill="#2b2b2b">inflammation</text>
<rect x="174.95" y="585.85" width="41.55" height="185.2" fill="#ffffff"/>
<rect x="174.95" y="585.85" width="13.2" height="13.15" fill="#f2f2f2"/>
<rect x="189.1" y="585.85" width="13.2" height="13.15" fill="#aeb3b5"/>
<rect x="203.25" y="585.85" width="13.2" height="13.15" fill="#dacce0"/>
<rect x="174.95" y="600.17" width="13.2" height="13.15" fill="#dacce0"/>
<rect x="189.1" y="600.17" width="13.2" height="13.15" fill="#c8e0d0"/>
<rect x="203.25" y="600.17" width="13.2" height="13.15" fill="#c8e0d0"/>
<rect x="174.95" y="614.49" width="13.2" height="13.15" fill="#dacce0"/>
<rect x="189.1" y="614.49" width="13.2" height="13.15" fill="#aeb3b5"/>
<rect x="203.25" y="614.49" width="13.2" height="13.15" fill="#aeb3b5"/>
<rect x="174.95" y="628.81" width="13.2" height="13.15" fill="#dacce0"/>
<rect x="189.1" y="628.81" width="13.2" height="13.15" fill="#aeb3b5"/>
<rect x="203.25" y="628.81" width="13.2" height="13.15" fill="#c8e0d0"/>
<rect x="174.95" y="643.13" width="13.2" height="13.15" fill="#f2f2f2"/>
<rect x="189.1" y="643.13" width="13.2" height="13.15" fill="#aeb3b5"/>
<rect x="203.25" y="643.13" width="13.2" height="13.15" fill="#dacce0"/>
<rect x="174.95" y="657.45" width="13.2" height="13.15" fill="#ac9fc8"/>
<rect x="189.1" y="657.45" width="13.2" height="13.15" fill="#aeb3b5"/>
<rect x="203.25" y="657.45" width="13.2" height="13.15" fill="#c8e0d0"/>
<rect x="174.95" y="671.77" width="13.2" height="13.15" fill="#f2f2f2"/>
<rect x="189.1" y="671.77" width="13.2" height="13.15" fill="#aeb3b5"/>
<rect x="203.25" y="671.77" width="13.2" height="13.15" fill="#aeb3b5"/>
<rect x="174.95" y="686.09" width="13.2" height="13.15" fill="#f2f2f2"/>
<rect x="189.1" y="686.09" width="13.2" height="13.15" fill="#f2f2f2"/>
<rect x="203.25" y="686.09" width="13.2" height="13.15" fill="#f2f2f2"/>
<rect x="174.95" y="700.41" width="13.2" height="13.15" fill="#dacce0"/>
<rect x="189.1" y="700.41" width="13.2" height="13.15" fill="#aeb3b5"/>
<rect x="203.25" y="700.41" width="13.2" height="13.15" fill="#aeb3b5"/>
<rect x="174.95" y="714.73" width="13.2" height="13.15" fill="#f2f2f2"/>
<rect x="189.1" y="714.73" width="13.2" height="13.15" fill="#aeb3b5"/>
<rect x="203.25" y="714.73" width="13.2" height="13.15" fill="#aeb3b5"/>
<rect x="174.95" y="729.05" width="13.2" height="13.15" fill="#f2f2f2"/>
<rect x="189.1" y="729.05" width="13.2" height="13.15" fill="#dacce0"/>
<rect x="203.25" y="729.05" width="13.2" height="13.15" fill="#dacce0"/>
<rect x="174.95" y="743.37" width="13.2" height="13.15" fill="#ac9fc8"/>
<rect x="189.1" y="743.37" width="13.2" height="13.15" fill="#aeb3b5"/>
<rect x="203.25" y="743.37" width="13.2" height="13.15" fill="#aeb3b5"/>
<rect x="174.95" y="757.69" width="13.2" height="13.15" fill="#f2f2f2"/>
<rect x="189.1" y="757.69" width="13.2" height="13.15" fill="#aeb3b5"/>
<rect x="203.25" y="757.69" width="13.2" height="13.15" fill="#f2f2f2"/>
<rect x="174.2" y="585.1" width="43.05" height="186.7" fill="none" stroke="#231f20" stroke-width="1.5"/>
<line x1="171.2" y1="592.43" x2="174.2" y2="592.43" stroke="#231f20" stroke-width="1.2"/>
<text x="169.2" y="595.03" font-size="9.3" text-anchor="end" fill="#2b2b2b">1</text>
<line x1="171.2" y1="606.75" x2="174.2" y2="606.75" stroke="#231f20" stroke-width="1.2"/>
<text x="169.2" y="609.35" font-size="9.3" text-anchor="end" fill="#2b2b2b">2*</text>
<line x1="171.2" y1="621.07" x2="174.2" y2="621.07" stroke="#231f20" stroke-width="1.2"/>
<text x="169.2" y="623.67" font-size="9.3" text-anchor="end" fill="#2b2b2b">4</text>
<line x1="171.2" y1="635.39" x2="174.2" y2="635.39" stroke="#231f20" stroke-width="1.2"/>
<text x="169.2" y="637.99" font-size="9.3" text-anchor="end" fill="#2b2b2b">5</text>
<line x1="171.2" y1="649.71" x2="174.2" y2="649.71" stroke="#231f20" stroke-width="1.2"/>
<text x="169.2" y="652.31" font-size="9.3" text-anchor="end" fill="#2b2b2b">6</text>
<line x1="171.2" y1="664.03" x2="174.2" y2="664.03" stroke="#231f20" stroke-width="1.2"/>
<text x="169.2" y="666.63" font-size="9.3" text-anchor="end" fill="#2b2b2b">7</text>
<line x1="171.2" y1="678.35" x2="174.2" y2="678.35" stroke="#231f20" stroke-width="1.2"/>
<text x="169.2" y="680.95" font-size="9.3" text-anchor="end" fill="#2b2b2b">8</text>
<line x1="171.2" y1="692.67" x2="174.2" y2="692.67" stroke="#231f20" stroke-width="1.2"/>
<text x="169.2" y="695.27" font-size="9.3" text-anchor="end" fill="#2b2b2b">9*</text>
<line x1="171.2" y1="706.99" x2="174.2" y2="706.99" stroke="#231f20" stroke-width="1.2"/>
<text x="169.2" y="709.59" font-size="9.3" text-anchor="end" fill="#2b2b2b">10</text>
<line x1="171.2" y1="721.31" x2="174.2" y2="721.31" stroke="#231f20" stroke-width="1.2"/>
<text x="169.2" y="723.91" font-size="9.3" text-anchor="end" fill="#2b2b2b">11</text>
<line x1="171.2" y1="735.62" x2="174.2" y2="735.62" stroke="#231f20" stroke-width="1.2"/>
<text x="169.2" y="738.23" font-size="9.3" text-anchor="end" fill="#2b2b2b">12*</text>
<line x1="171.2" y1="749.95" x2="174.2" y2="749.95" stroke="#231f20" stroke-width="1.2"/>
<text x="169.2" y="752.55" font-size="9.3" text-anchor="end" fill="#2b2b2b">13</text>
<line x1="171.2" y1="764.27" x2="174.2" y2="764.27" stroke="#231f20" stroke-width="1.2"/>
<text x="169.2" y="766.87" font-size="9.3" text-anchor="end" fill="#2b2b2b">16</text>
<line x1="181.55" y1="771.8" x2="181.55" y2="774.4" stroke="#231f20" stroke-width="1.2"/>
<text x="0" y="0" font-size="9.5" text-anchor="end" fill="#2b2b2b" transform="translate(185.55,780.4) rotate(-45)">12-months</text>
<line x1="195.7" y1="771.8" x2="195.7" y2="774.4" stroke="#231f20" stroke-width="1.2"/>
<text x="0" y="0" font-size="9.5" text-anchor="end" fill="#2b2b2b" transform="translate(201.6,779.4) rotate(-45)">1 year off IS</text>
<line x1="209.85" y1="771.8" x2="209.85" y2="774.4" stroke="#231f20" stroke-width="1.2"/>
<text x="0" y="0" font-size="9.5" text-anchor="end" fill="#2b2b2b" transform="translate(215.25,780.1) rotate(-45)">End of study</text>
<text x="273.38" y="562.1" font-size="9.4" font-weight="bold" text-anchor="middle" fill="#2b2b2b">Perivenular</text>
<text x="274.38" y="573.1" font-size="9.4" font-weight="bold" text-anchor="middle" fill="#2b2b2b">fibrosis</text>
<rect x="253.6" y="585.85" width="41.55" height="185.2" fill="#ffffff"/>
<rect x="253.6" y="585.85" width="13.2" height="13.15" fill="#f2f2f2"/>
<rect x="267.75" y="585.85" width="13.2" height="13.15" fill="#aeb3b5"/>
<rect x="281.9" y="585.85" width="13.2" height="13.15" fill="#ac9fc8"/>
<rect x="253.6" y="600.17" width="13.2" height="13.15" fill="#ac9fc8"/>
<rect x="267.75" y="600.17" width="13.2" height="13.15" fill="#c8e0d0"/>
<rect x="281.9" y="600.17" width="13.2" height="13.15" fill="#c8e0d0"/>
<rect x="253.6" y="614.49" width="13.2" height="13.15" fill="#f2f2f2"/>
<rect x="267.75" y="614.49" width="13.2" height="13.15" fill="#aeb3b5"/>
<rect x="281.9" y="614.49" width="13.2" height="13.15" fill="#aeb3b5"/>
<rect x="253.6" y="628.81" width="13.2" height="13.15" fill="#f2f2f2"/>
<rect x="267.75" y="628.81" width="13.2" height="13.15" fill="#aeb3b5"/>
<rect x="281.9" y="628.81" width="13.2" height="13.15" fill="#f2f2f2"/>
<rect x="253.6" y="643.13" width="13.2" height="13.15" fill="#f2f2f2"/>
<rect x="267.75" y="643.13" width="13.2" height="13.15" fill="#aeb3b5"/>
<rect x="281.9" y="643.13" width="13.2" height="13.15" fill="#f2f2f2"/>
<rect x="253.6" y="657.45" width="13.2" height="13.15" fill="#dacce0"/>
<rect x="267.75" y="657.45" width="13.2" height="13.15" fill="#aeb3b5"/>
<rect x="281.9" y="657.45" width="13.2" height="13.15" fill="#f2f2f2"/>
<rect x="253.6" y="671.77" width="13.2" height="13.15" fill="#f2f2f2"/>
<rect x="267.75" y="671.77" width="13.2" height="13.15" fill="#aeb3b5"/>
<rect x="281.9" y="671.77" width="13.2" height="13.15" fill="#aeb3b5"/>
<rect x="253.6" y="686.09" width="13.2" height="13.15" fill="#f2f2f2"/>
<rect x="267.75" y="686.09" width="13.2" height="13.15" fill="#ac9fc8"/>
<rect x="281.9" y="686.09" width="13.2" height="13.15" fill="#f2f2f2"/>
<rect x="253.6" y="700.41" width="13.2" height="13.15" fill="#f2f2f2"/>
<rect x="267.75" y="700.41" width="13.2" height="13.15" fill="#aeb3b5"/>
<rect x="281.9" y="700.41" width="13.2" height="13.15" fill="#aeb3b5"/>
<rect x="253.6" y="714.73" width="13.2" height="13.15" fill="#f2f2f2"/>
<rect x="267.75" y="714.73" width="13.2" height="13.15" fill="#aeb3b5"/>
<rect x="281.9" y="714.73" width="13.2" height="13.15" fill="#aeb3b5"/>
<rect x="253.6" y="729.05" width="13.2" height="13.15" fill="#f2f2f2"/>
<rect x="267.75" y="729.05" width="13.2" height="13.15" fill="#dacce0"/>
<rect x="281.9" y="729.05" width="13.2" height="13.15" fill="#dacce0"/>
<rect x="253.6" y="743.37" width="13.2" height="13.15" fill="#f2f2f2"/>
<rect x="267.75" y="743.37" width="13.2" height="13.15" fill="#aeb3b5"/>
<rect x="281.9" y="743.37" width="13.2" height="13.15" fill="#aeb3b5"/>
<rect x="253.6" y="757.69" width="13.2" height="13.15" fill="#dacce0"/>
<rect x="267.75" y="757.69" width="13.2" height="13.15" fill="#aeb3b5"/>
<rect x="281.9" y="757.69" width="13.2" height="13.15" fill="#f2f2f2"/>
<rect x="252.85" y="585.1" width="43.05" height="186.7" fill="none" stroke="#231f20" stroke-width="1.5"/>
<line x1="249.85" y1="592.43" x2="252.85" y2="592.43" stroke="#231f20" stroke-width="1.2"/>
<text x="247.85" y="595.03" font-size="9.3" text-anchor="end" fill="#2b2b2b">1</text>
<line x1="249.85" y1="606.75" x2="252.85" y2="606.75" stroke="#231f20" stroke-width="1.2"/>
<text x="247.85" y="609.35" font-size="9.3" text-anchor="end" fill="#2b2b2b">2*</text>
<line x1="249.85" y1="621.07" x2="252.85" y2="621.07" stroke="#231f20" stroke-width="1.2"/>
<text x="247.85" y="623.67" font-size="9.3" text-anchor="end" fill="#2b2b2b">4</text>
<line x1="249.85" y1="635.39" x2="252.85" y2="635.39" stroke="#231f20" stroke-width="1.2"/>
<text x="247.85" y="637.99" font-size="9.3" text-anchor="end" fill="#2b2b2b">5</text>
<line x1="249.85" y1="649.71" x2="252.85" y2="649.71" stroke="#231f20" stroke-width="1.2"/>
<text x="247.85" y="652.31" font-size="9.3" text-anchor="end" fill="#2b2b2b">6</text>
<line x1="249.85" y1="664.03" x2="252.85" y2="664.03" stroke="#231f20" stroke-width="1.2"/>
<text x="247.85" y="666.63" font-size="9.3" text-anchor="end" fill="#2b2b2b">7</text>
<line x1="249.85" y1="678.35" x2="252.85" y2="678.35" stroke="#231f20" stroke-width="1.2"/>
<text x="247.85" y="680.95" font-size="9.3" text-anchor="end" fill="#2b2b2b">8</text>
<line x1="249.85" y1="692.67" x2="252.85" y2="692.67" stroke="#231f20" stroke-width="1.2"/>
<text x="247.85" y="695.27" font-size="9.3" text-anchor="end" fill="#2b2b2b">9*</text>
<line x1="249.85" y1="706.99" x2="252.85" y2="706.99" stroke="#231f20" stroke-width="1.2"/>
<text x="247.85" y="709.59" font-size="9.3" text-anchor="end" fill="#2b2b2b">10</text>
<line x1="249.85" y1="721.31" x2="252.85" y2="721.31" stroke="#231f20" stroke-width="1.2"/>
<text x="247.85" y="723.91" font-size="9.3" text-anchor="end" fill="#2b2b2b">11</text>
<line x1="249.85" y1="735.62" x2="252.85" y2="735.62" stroke="#231f20" stroke-width="1.2"/>
<text x="247.85" y="738.23" font-size="9.3" text-anchor="end" fill="#2b2b2b">12*</text>
<line x1="249.85" y1="749.95" x2="252.85" y2="749.95" stroke="#231f20" stroke-width="1.2"/>
<text x="247.85" y="752.55" font-size="9.3" text-anchor="end" fill="#2b2b2b">13</text>
<line x1="249.85" y1="764.27" x2="252.85" y2="764.27" stroke="#231f20" stroke-width="1.2"/>
<text x="247.85" y="766.87" font-size="9.3" text-anchor="end" fill="#2b2b2b">16</text>
<line x1="260.2" y1="771.8" x2="260.2" y2="774.4" stroke="#231f20" stroke-width="1.2"/>
<text x="0" y="0" font-size="9.5" text-anchor="end" fill="#2b2b2b" transform="translate(264.2,780.4) rotate(-45)">12-months</text>
<line x1="274.35" y1="771.8" x2="274.35" y2="774.4" stroke="#231f20" stroke-width="1.2"/>
<text x="0" y="0" font-size="9.5" text-anchor="end" fill="#2b2b2b" transform="translate(280.25,779.4) rotate(-45)">1 year off IS</text>
<line x1="288.5" y1="771.8" x2="288.5" y2="774.4" stroke="#231f20" stroke-width="1.2"/>
<text x="0" y="0" font-size="9.5" text-anchor="end" fill="#2b2b2b" transform="translate(293.9,780.1) rotate(-45)">End of study</text>
<text x="350.98" y="567.6" font-size="9.4" font-weight="bold" text-anchor="middle" fill="#2b2b2b">LAFSc</text>
<rect x="330.2" y="585.85" width="41.55" height="185.2" fill="#ffffff"/>
<rect x="330.2" y="585.85" width="13.2" height="13.15" fill="#f2f2f2"/>
<rect x="344.35" y="585.85" width="13.2" height="13.15" fill="#aeb3b5"/>
<rect x="358.5" y="585.85" width="13.2" height="13.15" fill="#ac9fc8"/>
<rect x="330.2" y="600.17" width="13.2" height="13.15" fill="#ac9fc8"/>
<rect x="344.35" y="600.17" width="13.2" height="13.15" fill="#c8e0d0"/>
<rect x="358.5" y="600.17" width="13.2" height="13.15" fill="#c8e0d0"/>
<rect x="330.2" y="614.49" width="13.2" height="13.15" fill="#f2f2f2"/>
<rect x="344.35" y="614.49" width="13.2" height="13.15" fill="#aeb3b5"/>
<rect x="358.5" y="614.49" width="13.2" height="13.15" fill="#aeb3b5"/>
<rect x="330.2" y="628.81" width="13.2" height="13.15" fill="#f2f2f2"/>
<rect x="344.35" y="628.81" width="13.2" height="13.15" fill="#aeb3b5"/>
<rect x="358.5" y="628.81" width="13.2" height="13.15" fill="#dacce0"/>
<rect x="330.2" y="643.13" width="13.2" height="13.15" fill="#f2f2f2"/>
<rect x="344.35" y="643.13" width="13.2" height="13.15" fill="#aeb3b5"/>
<rect x="358.5" y="643.13" width="13.2" height="13.15" fill="#dacce0"/>
<rect x="330.2" y="657.45" width="13.2" height="13.15" fill="#ac9fc8"/>
<rect x="344.35" y="657.45" width="13.2" height="13.15" fill="#aeb3b5"/>
<rect x="358.5" y="657.45" width="13.2" height="13.15" fill="#c8e0d0"/>
<rect x="330.2" y="671.77" width="13.2" height="13.15" fill="#f2f2f2"/>
<rect x="344.35" y="671.77" width="13.2" height="13.15" fill="#aeb3b5"/>
<rect x="358.5" y="671.77" width="13.2" height="13.15" fill="#aeb3b5"/>
<rect x="330.2" y="686.09" width="13.2" height="13.15" fill="#dacce0"/>
<rect x="344.35" y="686.09" width="13.2" height="13.15" fill="#dacce0"/>
<rect x="358.5" y="686.09" width="13.2" height="13.15" fill="#f2f2f2"/>
<rect x="330.2" y="700.41" width="13.2" height="13.15" fill="#dacce0"/>
<rect x="344.35" y="700.41" width="13.2" height="13.15" fill="#aeb3b5"/>
<rect x="358.5" y="700.41" width="13.2" height="13.15" fill="#aeb3b5"/>
<rect x="330.2" y="714.73" width="13.2" height="13.15" fill="#dacce0"/>
<rect x="344.35" y="714.73" width="13.2" height="13.15" fill="#aeb3b5"/>
<rect x="358.5" y="714.73" width="13.2" height="13.15" fill="#aeb3b5"/>
<rect x="330.2" y="729.05" width="13.2" height="13.15" fill="#dacce0"/>
<rect x="344.35" y="729.05" width="13.2" height="13.15" fill="#f2f2f2"/>
<rect x="358.5" y="729.05" width="13.2" height="13.15" fill="#f2f2f2"/>
<rect x="330.2" y="743.37" width="13.2" height="13.15" fill="#dacce0"/>
<rect x="344.35" y="743.37" width="13.2" height="13.15" fill="#aeb3b5"/>
<rect x="358.5" y="743.37" width="13.2" height="13.15" fill="#aeb3b5"/>
<rect x="330.2" y="757.69" width="13.2" height="13.15" fill="#ac9fc8"/>
<rect x="344.35" y="757.69" width="13.2" height="13.15" fill="#aeb3b5"/>
<rect x="358.5" y="757.69" width="13.2" height="13.15" fill="#c8e0d0"/>
<rect x="329.45" y="585.1" width="43.05" height="186.7" fill="none" stroke="#231f20" stroke-width="1.5"/>
<line x1="326.45" y1="592.43" x2="329.45" y2="592.43" stroke="#231f20" stroke-width="1.2"/>
<text x="324.45" y="595.03" font-size="9.3" text-anchor="end" fill="#2b2b2b">1</text>
<line x1="326.45" y1="606.75" x2="329.45" y2="606.75" stroke="#231f20" stroke-width="1.2"/>
<text x="324.45" y="609.35" font-size="9.3" text-anchor="end" fill="#2b2b2b">2*</text>
<line x1="326.45" y1="621.07" x2="329.45" y2="621.07" stroke="#231f20" stroke-width="1.2"/>
<text x="324.45" y="623.67" font-size="9.3" text-anchor="end" fill="#2b2b2b">4</text>
<line x1="326.45" y1="635.39" x2="329.45" y2="635.39" stroke="#231f20" stroke-width="1.2"/>
<text x="324.45" y="637.99" font-size="9.3" text-anchor="end" fill="#2b2b2b">5</text>
<line x1="326.45" y1="649.71" x2="329.45" y2="649.71" stroke="#231f20" stroke-width="1.2"/>
<text x="324.45" y="652.31" font-size="9.3" text-anchor="end" fill="#2b2b2b">6</text>
<line x1="326.45" y1="664.03" x2="329.45" y2="664.03" stroke="#231f20" stroke-width="1.2"/>
<text x="324.45" y="666.63" font-size="9.3" text-anchor="end" fill="#2b2b2b">7</text>
<line x1="326.45" y1="678.35" x2="329.45" y2="678.35" stroke="#231f20" stroke-width="1.2"/>
<text x="324.45" y="680.95" font-size="9.3" text-anchor="end" fill="#2b2b2b">8</text>
<line x1="326.45" y1="692.67" x2="329.45" y2="692.67" stroke="#231f20" stroke-width="1.2"/>
<text x="324.45" y="695.27" font-size="9.3" text-anchor="end" fill="#2b2b2b">9*</text>
<line x1="326.45" y1="706.99" x2="329.45" y2="706.99" stroke="#231f20" stroke-width="1.2"/>
<text x="324.45" y="709.59" font-size="9.3" text-anchor="end" fill="#2b2b2b">10</text>
<line x1="326.45" y1="721.31" x2="329.45" y2="721.31" stroke="#231f20" stroke-width="1.2"/>
<text x="324.45" y="723.91" font-size="9.3" text-anchor="end" fill="#2b2b2b">11</text>
<line x1="326.45" y1="735.62" x2="329.45" y2="735.62" stroke="#231f20" stroke-width="1.2"/>
<text x="324.45" y="738.23" font-size="9.3" text-anchor="end" fill="#2b2b2b">12*</text>
<line x1="326.45" y1="749.95" x2="329.45" y2="749.95" stroke="#231f20" stroke-width="1.2"/>
<text x="324.45" y="752.55" font-size="9.3" text-anchor="end" fill="#2b2b2b">13</text>
<line x1="326.45" y1="764.27" x2="329.45" y2="764.27" stroke="#231f20" stroke-width="1.2"/>
<text x="324.45" y="766.87" font-size="9.3" text-anchor="end" fill="#2b2b2b">16</text>
<line x1="336.8" y1="771.8" x2="336.8" y2="774.4" stroke="#231f20" stroke-width="1.2"/>
<text x="0" y="0" font-size="9.5" text-anchor="end" fill="#2b2b2b" transform="translate(340.8,780.4) rotate(-45)">12-months</text>
<line x1="350.95" y1="771.8" x2="350.95" y2="774.4" stroke="#231f20" stroke-width="1.2"/>
<text x="0" y="0" font-size="9.5" text-anchor="end" fill="#2b2b2b" transform="translate(356.85,779.4) rotate(-45)">1 year off IS</text>
<line x1="365.1" y1="771.8" x2="365.1" y2="774.4" stroke="#231f20" stroke-width="1.2"/>
<text x="0" y="0" font-size="9.5" text-anchor="end" fill="#2b2b2b" transform="translate(370.5,780.1) rotate(-45)">End of study</text>
<text x="127.4" y="833.1" font-size="9.4" fill="#2b2b2b">Score/change over time:</text>
<rect x="122" y="837.6" width="10.4" height="9.8" fill="#078a48" stroke="#4a4a4a" stroke-width="0.8"/>
<text x="127.2" y="856.5" font-size="9.4" text-anchor="middle" fill="#2b2b2b">-4</text>
<rect x="134.97" y="837.6" width="10.4" height="9.8" fill="#42a372" stroke="#4a4a4a" stroke-width="0.8"/>
<text x="140.29" y="856.5" font-size="9.4" text-anchor="middle" fill="#2b2b2b">-3</text>
<rect x="147.94" y="837.6" width="10.4" height="9.8" fill="#8cc8a6" stroke="#4a4a4a" stroke-width="0.8"/>
<text x="153.38" y="856.5" font-size="9.4" text-anchor="middle" fill="#2b2b2b">-2</text>
<rect x="160.91" y="837.6" width="10.4" height="9.8" fill="#c8e0d0" stroke="#4a4a4a" stroke-width="0.8"/>
<text x="166.47" y="856.5" font-size="9.4" text-anchor="middle" fill="#2b2b2b">-1</text>
<rect x="173.88" y="837.6" width="10.4" height="9.8" fill="#f2f2f2" stroke="#4a4a4a" stroke-width="0.8"/>
<text x="179.56" y="856.5" font-size="9.4" text-anchor="middle" fill="#2b2b2b">0</text>
<rect x="186.85" y="837.6" width="10.4" height="9.8" fill="#dacce0" stroke="#4a4a4a" stroke-width="0.8"/>
<text x="192.65" y="856.5" font-size="9.4" text-anchor="middle" fill="#2b2b2b">+1</text>
<rect x="199.82" y="837.6" width="10.4" height="9.8" fill="#ac9fc8" stroke="#4a4a4a" stroke-width="0.8"/>
<text x="205.74" y="856.5" font-size="9.4" text-anchor="middle" fill="#2b2b2b">+2</text>
<rect x="212.79" y="837.6" width="10.4" height="9.8" fill="#8c78b0" stroke="#4a4a4a" stroke-width="0.8"/>
<text x="218.83" y="856.5" font-size="9.4" text-anchor="middle" fill="#2b2b2b">+3</text>
<rect x="225.76" y="837.6" width="10.4" height="9.8" fill="#6c4a8c" stroke="#4a4a4a" stroke-width="0.8"/>
<text x="231.92" y="856.5" font-size="9.4" text-anchor="middle" fill="#2b2b2b">+4</text>
<rect x="261.5" y="837.6" width="10.4" height="9.8" fill="#aeb3b5" stroke="#4a4a4a" stroke-width="0.8"/>
<text x="267.6" y="857.5" font-size="9.4" text-anchor="middle" fill="#2b2b2b">No biopsy</text>
</svg>
</body></html>
